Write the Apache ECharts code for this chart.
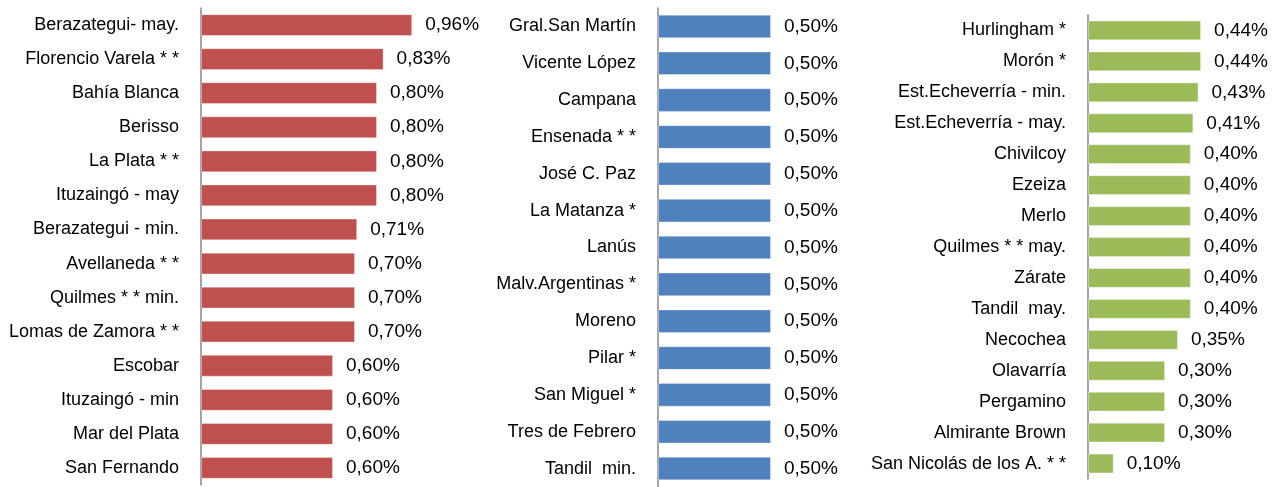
<!DOCTYPE html>
<html>
<head>
<meta charset="utf-8">
<script src="https://cdn.jsdelivr.net/npm/echarts@6/dist/echarts.min.js"></script>
<style>
  html, body { margin: 0; padding: 0; background: #fff; }
  #chart { width: 1277px; height: 487px; }
</style>
</head>
<body>
<div id="chart"></div>
<script>
// left panel (red)
const namesA = [
  "Berazategui- may.", "Florencio Varela * *", "Bahía Blanca", "Berisso", "La Plata * *",
  "Ituzaingó - may", "Berazategui - min.", "Avellaneda * *", "Quilmes * * min.",
  "Lomas de Zamora * *", "Escobar", "Ituzaingó - min", "Mar del Plata", "San Fernando"
];
const valuesA = [0.96, 0.83, 0.80, 0.80, 0.80, 0.80, 0.71, 0.70, 0.70, 0.70, 0.60, 0.60, 0.60, 0.60];

// middle panel (blue)
const namesB = [
  "Gral.San Martín", "Vicente López", "Campana", "Ensenada * *", "José C. Paz",
  "La Matanza *", "Lanús", "Malv.Argentinas *", "Moreno", "Pilar *", "San Miguel *",
  "Tres de Febrero", "Tandil  min."
];
const valuesB = [0.50, 0.50, 0.50, 0.50, 0.50, 0.50, 0.50, 0.50, 0.50, 0.50, 0.50, 0.50, 0.50];

// right panel (green)
const namesC = [
  "Hurlingham *", "Morón *", "Est.Echeverría - min.", "Est.Echeverría - may.", "Chivilcoy",
  "Ezeiza", "Merlo", "Quilmes * * may.", "Zárate", "Tandil  may.", "Necochea",
  "Olavarría", "Pergamino", "Almirante Brown", "San Nicolás de los A. * *"
];
const valuesC = [0.44, 0.44, 0.43, 0.41, 0.40, 0.40, 0.40, 0.40, 0.40, 0.40, 0.35, 0.30, 0.30, 0.30, 0.10];

const colors = ["#C0504D", "#4F81BD", "#9BBB59"];
const font = "'Liberation Sans', Arial, sans-serif";

const chart = echarts.init(document.getElementById("chart"));

function pct(v) {
  return v.toFixed(2).replace(".", ",") + "%";
}

// grid widths are set so that max = 1 gives the px-per-unit of each panel
const grids = [
  { left: 201, top: 8, width: 220, height: 477, outerBoundsMode: "none" },
  { left: 658, top: 8, width: 226, height: 479, outerBoundsMode: "none" },
  { left: 1088, top: 15, width: 257, height: 464, outerBoundsMode: "none" },
];
const names = [namesA, namesB, namesC];
const values = [valuesA, valuesB, valuesC];

const options = {
  animation: false,
  grid: grids,
  xAxis: grids.map((g, i) => ({
    type: "value",
    gridIndex: i,
    min: 0,
    max: 1,
    show: false,
  })),
  yAxis: grids.map((g, i) => ({
    type: "category",
    gridIndex: i,
    inverse: true,
    data: names[i],
    axisLine: { lineStyle: { color: "#868686", width: 1.5 } },
    axisTick: { length: 7, lineStyle: { color: "#868686", width: 1.5 } },
    axisLabel: {
      margin: 22,
      color: "#000",
      fontSize: 18,
      fontFamily: font,
    },
  })),
  series: values.map((vals, i) => ({
    type: "bar",
    xAxisIndex: i,
    yAxisIndex: i,
    data: vals,
    barCategoryGap: "36%",
    itemStyle: {
      color: colors[i],
      borderColor: "rgba(255,255,255,0.35)",
      borderWidth: 1,
    },
    label: {
      show: true,
      position: "right",
      distance: 13,
      color: "#000",
      fontSize: 19,
      fontFamily: font,
      formatter: (p) => pct(p.value),
    },
  })),
};

chart.setOption(options);
</script>
</body>
</html>
